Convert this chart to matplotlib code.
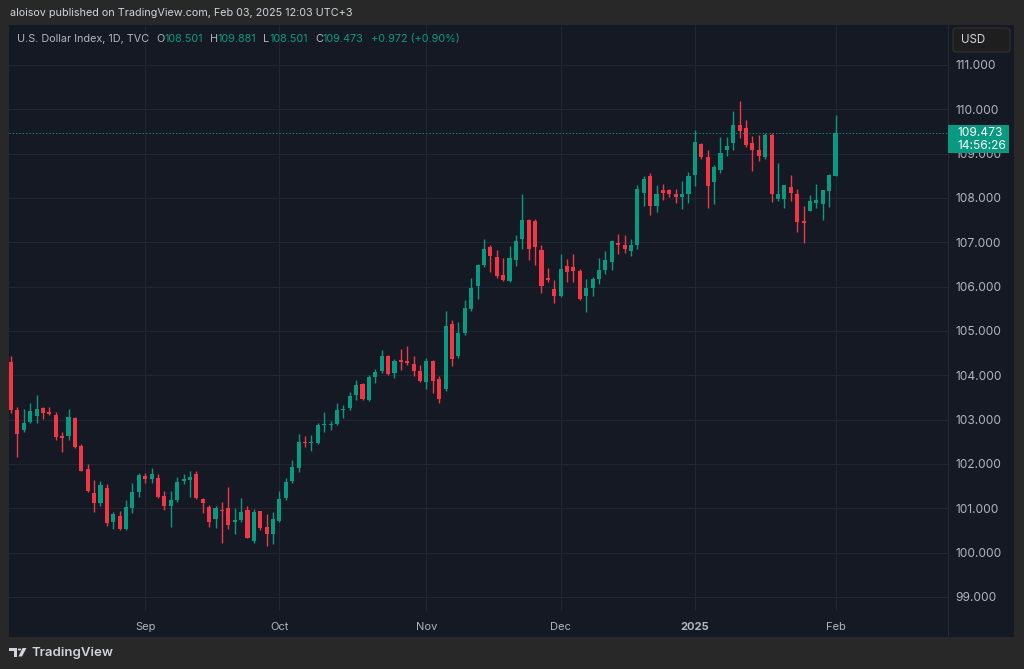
"""U.S. Dollar Index daily candles, TradingView dark style."""

import matplotlib.pyplot as plt
import matplotlib.patches as mpatches
import matplotlib.transforms as mtransforms
import pandas as pd

plt.rcParams['font.family'] = ['Inter', 'DejaVu Sans']

# daily bars Aug 2 2024 .. Feb 3 2025 (no bars on Dec 25 / Jan 1)
dates = pd.bdate_range('2024-08-02', '2025-02-03')
dates = dates[~dates.isin(pd.to_datetime(['2024-12-25', '2025-01-01']))]

opens = [
    # Aug
    104.31, 103.22, 102.77, 102.94, 103.09, 103.26, 103.17, 103.10, 102.62, 102.62,
    103.04, 102.40, 101.88, 101.35, 101.11, 101.46, 100.68, 100.82, 100.54, 101.00, 101.37,
    # Sep
    101.73, 101.65, 101.68, 101.28, 101.05, 101.19, 101.62, 101.64, 101.77, 101.20,
    101.04, 100.75, 100.95, 101.01, 100.68, 100.74, 100.96, 100.26, 100.93, 100.58, 100.41,
    # Oct
    100.72, 101.23, 101.62, 101.92, 102.49, 102.47, 102.48, 102.87, 102.88, 102.91,
    103.22, 103.26, 103.56, 103.80, 103.44, 103.97, 104.09, 104.43, 104.05, 104.35,
    104.32, 104.26, 104.09,
    # Nov
    103.86, 104.32, 103.91, 103.70, 105.16, 104.44, 104.95, 105.50, 106.01, 106.49,
    106.90, 106.67, 106.26, 106.12, 106.60, 107.07, 107.50, 107.48, 106.83, 106.19, 105.95,
    # Dec
    105.78, 106.47, 106.44, 106.35, 105.79, 105.97, 106.18, 106.37, 106.56, 106.98,
    106.95, 106.81, 106.94, 108.11, 108.49, 107.81, 108.17, 108.18, 108.09, 108.02, 108.10,
    # Jan
    108.52, 109.21, 108.92, 108.35, 108.63, 109.08, 109.24, 109.65, 109.58, 109.23,
    109.08, 108.92, 109.41, 107.98, 107.98, 108.25, 108.10, 107.47, 107.71, 107.89,
    107.86, 108.16,
    # Feb
    108.501,
]
highs = [
    104.44, 103.28, 103.23, 103.37, 103.56, 103.29, 103.29, 103.18, 102.72, 103.23,
    103.06, 102.45, 101.99, 101.64, 101.62, 101.55, 100.92, 100.93, 101.19, 101.58, 101.79,
    101.79, 101.92, 101.77, 101.38, 101.40, 101.70, 101.77, 101.83, 101.84, 101.23,
    101.08, 101.05, 101.15, 101.47, 101.01, 101.23, 101.05, 100.99, 100.95, 100.87, 100.92,
    101.40, 101.68, 102.09, 102.68, 102.63, 102.65, 102.93, 103.18, 102.98, 103.37,
    103.33, 103.62, 103.89, 103.82, 104.00, 104.14, 104.57, 104.46, 104.36, 104.59,
    104.65, 104.44, 104.23,
    104.40, 104.35, 103.98, 105.46, 105.25, 105.21, 105.70, 106.19, 106.52, 107.07,
    106.94, 106.82, 106.64, 106.92, 107.17, 108.09, 107.52, 107.52, 106.93, 106.43, 106.15,
    106.74, 106.62, 106.73, 106.40, 106.17, 106.22, 106.65, 106.81, 107.05, 107.19,
    107.16, 107.08, 108.29, 108.50, 108.56, 108.29, 108.31, 108.20, 108.21, 108.38, 108.59,
    109.53, 109.24, 109.08, 108.74, 109.38, 109.38, 109.97, 110.19, 109.76, 109.40,
    109.41, 109.47, 109.47, 108.80, 108.30, 108.52, 108.20, 107.82, 108.07, 108.31,
    108.18, 108.55,
    109.881,
]
lows = [
    103.14, 102.16, 102.71, 102.93, 102.93, 103.02, 103.10, 102.54, 102.28, 102.55,
    102.37, 101.84, 101.36, 100.92, 101.06, 100.61, 100.53, 100.52, 100.52, 100.90, 101.25,
    101.58, 101.58, 101.23, 100.96, 100.58, 101.15, 101.55, 101.26, 101.20, 100.89,
    100.58, 100.56, 100.21, 100.53, 100.41, 100.70, 100.32, 100.21, 100.50, 100.16, 100.19,
    100.70, 101.18, 101.58, 101.81, 102.38, 102.30, 102.45, 102.73, 102.77, 102.89,
    103.03, 103.22, 103.44, 103.44, 103.42, 103.82, 104.05, 104.00, 103.95, 104.12,
    104.23, 103.98, 103.84,
    103.69, 103.59, 103.38, 103.65, 104.20, 104.38, 104.92, 105.45, 105.73, 106.45,
    106.34, 106.20, 106.13, 106.10, 106.47, 106.85, 106.60, 106.49, 105.86, 106.11, 105.63,
    105.76, 106.10, 106.10, 105.70, 105.43, 105.80, 106.05, 106.28, 106.38, 106.73,
    106.77, 106.70, 106.84, 107.83, 107.61, 107.69, 107.95, 108.03, 107.88, 107.75, 107.88,
    108.28, 108.88, 107.77, 107.86, 108.57, 108.95, 109.09, 109.36, 109.15, 108.61,
    108.84, 108.88, 107.92, 107.93, 107.77, 107.93, 107.23, 106.98, 107.70, 107.77,
    107.50, 107.79,
    108.501,
]
closes = [
    103.22, 102.67, 102.93, 103.19, 103.24, 103.16, 103.13, 102.60, 102.59, 103.05,
    102.39, 101.85, 101.38, 101.13, 101.53, 100.67, 100.86, 100.54, 101.04, 101.37, 101.74,
    101.65, 101.77, 101.26, 101.05, 101.19, 101.60, 101.66, 101.71, 101.23, 101.11,
    100.70, 101.01, 100.93, 100.62, 100.74, 100.92, 100.34, 100.92, 100.55, 100.41, 100.76,
    101.21, 101.60, 101.94, 102.49, 102.47, 102.49, 102.88, 102.90, 102.91, 103.22,
    103.25, 103.53, 103.77, 103.46, 103.97, 104.07, 104.43, 104.02, 104.32, 104.31,
    104.28, 104.09, 103.88,
    104.32, 103.88, 103.46, 105.11, 104.36, 104.95, 105.52, 105.97, 106.49, 106.86,
    106.68, 106.24, 106.15, 106.64, 107.03, 107.50, 106.84, 106.89, 106.02, 106.15, 105.78,
    106.39, 106.34, 106.35, 105.72, 105.97, 106.18, 106.38, 106.61, 107.02, 106.94,
    106.86, 106.93, 108.20, 108.43, 107.82, 108.08, 108.12, 108.08, 108.02, 108.09, 108.50,
    109.26, 108.92, 108.28, 108.69, 109.01, 109.17, 109.65, 109.50, 109.20, 109.09,
    108.95, 109.42, 108.08, 108.09, 108.29, 108.12, 107.46, 107.44, 107.93, 107.95,
    108.18, 108.52,
    109.473,
]
price_ticks = list(range(99, 112))
header = 'aloisov published on TradingView.com, Feb 03, 2025 12:03 UTC+3'
countdown = '14:56:26'

UP, DOWN = '#089981', '#f23645'
BG, OUTER = '#151924', '#282828'
GRID = '#222633'
TXT = '#b2b5be'

W, H = 1024, 669


def fx(px):
    return px / W


def fy(py):
    return 1 - py / H


fig = plt.figure(figsize=(W / 100, H / 100), dpi=100, facecolor=OUTER)

# chart panel (behind everything)
fig.patches.append(mpatches.Rectangle((fx(9), fy(637)), fx(1014) - fx(9), fy(25) - fy(637),
                                      transform=fig.transFigure, facecolor=BG,
                                      edgecolor='none', zorder=-10))

ax = fig.add_axes([fx(9), fy(611), fx(948) - fx(9), fy(25) - fy(611)], zorder=2)
ax.set_facecolor(BG)
for s in ax.spines.values():
    s.set_visible(False)

idx = list(range(len(dates)))
colors = [UP if c >= o else DOWN for o, c in zip(opens, closes)]
bottoms = [min(o, c) for o, c in zip(opens, closes)]
heights = [max(abs(c - o), 0.025) for o, c in zip(opens, closes)]

ax.vlines(idx, lows, highs, colors=colors, linewidth=1.0, zorder=3)
ax.bar(idx, heights, bottom=bottoms, width=0.64, color=colors, linewidth=0, zorder=4)

ax.set_xlim(-0.31, 146.6)
ax.set_ylim(98.683, 111.902)

# month ticks
month_start = [i for i in range(1, len(dates)) if dates[i].month != dates[i - 1].month]
month_labels = ['2025' if dates[i].month == 1 else dates[i].strftime('%b') for i in month_start]
ax.set_xticks(month_start)
ax.set_xticklabels(month_labels)
for lab in ax.get_xticklabels():
    if lab.get_text() == '2025':
        lab.set_fontweight('bold')

ax.set_yticks(price_ticks)
ax.set_yticklabels([f'{p:.3f}' for p in price_ticks])
ax.yaxis.tick_right()
ax.tick_params(axis='both', length=0, colors=TXT, labelsize=8)
ax.tick_params(axis='y', labelsize=8.6, pad=5.5)
ax.tick_params(axis='x', pad=8)
ax.grid(True, color=GRID, linewidth=0.8, zorder=0)
ax.set_axisbelow(True)

# last price line and tag
last = closes[-1]
ax.axhline(last, color=UP, linestyle=(0, (1, 2)), linewidth=0.8, zorder=5)
tag_tr = mtransforms.blended_transform_factory(fig.transFigure, ax.transData)
px_per_unit = (fy(25) - fy(611)) * H / (111.902 - 98.683)
ax.add_patch(mpatches.Rectangle((fx(948), last - 20 / px_per_unit), fx(1009) - fx(948),
                                28 / px_per_unit, transform=tag_tr, facecolor=UP,
                                edgecolor='none', clip_on=False, zorder=10))
ax.text(fx(957), last, f'{last:.3f}', transform=tag_tr, color='white', fontsize=8.6,
        va='center', ha='left', zorder=11, clip_on=False)
ax.text(fx(957), last - 13.5 / px_per_unit, countdown, transform=tag_tr, color='white',
        fontsize=8.6, va='center', ha='left', zorder=11, clip_on=False)

# separator of price scale
fig.lines.append(plt.Line2D([fx(948), fx(948)], [fy(25), fy(637)], transform=fig.transFigure,
                            color='#262a36', linewidth=0.8, zorder=1))

# USD button
fig.patches.append(mpatches.FancyBboxPatch((fx(953), fy(52)), fx(1010) - fx(953), fy(28) - fy(52),
                                           boxstyle='round,pad=0,rounding_size=0.004',
                                           transform=fig.transFigure, facecolor='#1e1e1e',
                                           edgecolor='#323232', linewidth=0.8, zorder=3))
fig.text(fx(961), fy(40), 'USD', color='#d1d4dc', fontsize=8.3, va='center', ha='left', zorder=4)

# header
fig.text(fx(10), fy(13), header, color='#d1d4dc', fontsize=7.8, va='center', ha='left')

# legend line: (text, colour, gap before it in points)
chg = closes[-1] - opens[-1]
pieces = [
    ('O', TXT, 5), (f'{opens[-1]:.3f}', UP, 0),
    ('H', TXT, 5), (f'{highs[-1]:.3f}', UP, 0),
    ('L', TXT, 5), (f'{lows[-1]:.3f}', UP, 0),
    ('C', TXT, 5), (f'{closes[-1]:.3f}', UP, 0),
    (f'{chg:+.3f} ({chg / opens[-1] * 100:+.2f}%)', UP, 5),
]
prev = ax.text(fx(17), fy(39), 'U.S. Dollar Index, 1D, TVC', color=TXT, fontsize=7.8,
               va='center', transform=fig.transFigure, zorder=10)
for txt, col, gap in pieces:
    prev = ax.annotate(txt, xy=(1, 0.5), xycoords=prev, xytext=(gap, 0),
                       textcoords='offset points', va='center', ha='left',
                       color=col, fontsize=7.8, annotation_clip=False, zorder=10)

# TradingView footer
logo = '#d1d4dc'
fig.patches.append(mpatches.Polygon([(fx(9), fy(648)), (fx(17), fy(648)), (fx(17), fy(656.5)),
                                     (fx(14), fy(656.5)), (fx(14), fy(651)), (fx(9), fy(651))],
                                    closed=True, transform=fig.transFigure, facecolor=logo))
fig.patches.append(mpatches.Circle((fx(19.5), fy(649.5)), 0.0016, transform=fig.transFigure,
                                   facecolor=logo))
fig.patches.append(mpatches.Polygon([(fx(22.5), fy(648)), (fx(26.5), fy(648)), (fx(22), fy(656.5)),
                                     (fx(18.5), fy(656.5))],
                                    closed=True, transform=fig.transFigure, facecolor=logo))
fig.text(fx(31), fy(653), 'TradingView', color=logo, fontsize=9.5, fontweight='semibold',
         va='center', ha='left')

fig.savefig('out.png', dpi=100, facecolor=OUTER)
